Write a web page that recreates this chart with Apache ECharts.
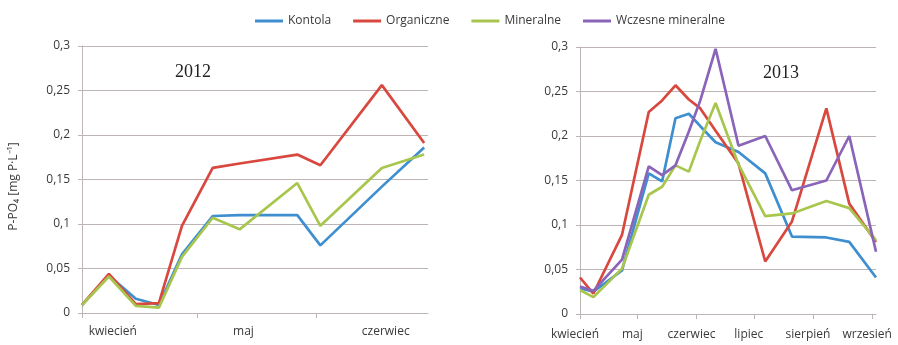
<!DOCTYPE html>
<html>
<head>
<meta charset="utf-8">
<script src="https://cdn.jsdelivr.net/npm/echarts@6/dist/echarts.min.js"></script>
<style>
html,body{margin:0;padding:0;background:#fff;}
#chart{width:898px;height:345px;}
</style>
</head>
<body>
<div id="chart"></div>
<script>
// ---- DATA ----
var seriesNames = ['Kontola', 'Organiczne', 'Mineralne', 'Wczesne mineralne'];
var yearTitles = ['2012', '2013'];
var yTickValues = [0, 0.05, 0.1, 0.15, 0.2, 0.25, 0.3];
var months2012 = ['kwiecień', 'maj', 'czerwiec'];
var months2013 = ['kwiecień', 'maj', 'czerwiec', 'lipiec', 'sierpień', 'wrzesień'];
var monthStarts2012 = [0, 30, 61, 90];          // days since 1 April
var monthStarts2013 = [0, 30, 61, 91, 122, 153];

// sampling days (days since 1 April)
var days2012 = [0, 7, 14, 20, 26, 34, 41, 56, 62, 78, 89];
var kontola2012    = [0.009, 0.042, 0.016, 0.009, 0.066, 0.109, 0.110, 0.110, 0.076, 0.142, 0.186];
var organiczne2012 = [0.009, 0.044, 0.010, 0.011, 0.098, 0.163, 0.168, 0.178, 0.166, 0.256, 0.191];
var mineralne2012  = [0.009, 0.041, 0.008, 0.006, 0.063, 0.107, 0.094, 0.146, 0.098, 0.163, 0.178];

var days2013 = [0, 7, 22, 36, 43, 50, 57, 63, 71, 83, 97, 111, 129, 141, 155];
var kontola2013    = [0.029, 0.025, 0.049, 0.158, 0.149, 0.220, 0.225, 0.211, 0.193, 0.182, 0.158, 0.087, 0.086, 0.081, 0.041];
var organiczne2013 = [0.041, 0.023, 0.089, 0.227, 0.240, 0.257, 0.241, 0.231, 0.206, 0.169, 0.059, 0.104, 0.231, 0.124, 0.081];
var mineralne2013  = [0.027, 0.019, 0.051, 0.134, 0.143, 0.167, 0.160, 0.195, 0.237, 0.168, 0.110, 0.113, 0.127, 0.119, 0.083];
var wczesne2013    = [0.031, 0.026, 0.061, 0.166, 0.156, 0.167, 0.205, 0.240, 0.298, 0.189, 0.200, 0.139, 0.150, 0.200, 0.070];

// ---- CHART ----
function zip(xs, ys) { return xs.map(function (x, i) { return [x, ys[i]]; }); }
var colors = ['#3f8fd0', '#d8483f', '#a8c64e', '#8a64b8'];
var txt = '#3a3a3a';
var gridCol = '#bdb5b5';
var font = 'Open Sans';

function yAxis(idx, withName) {
  var a = {
    type: 'value', gridIndex: idx, min: 0, max: 0.3, interval: 0.05,
    axisLine: { show: true, lineStyle: { color: gridCol, width: 1 } },
    axisTick: { show: true, length: 4, lineStyle: { color: gridCol } },
    splitLine: { show: true, lineStyle: { color: gridCol, width: 1 } },
    axisLabel: {
      color: txt, fontSize: 12, fontFamily: font, margin: 12,
      formatter: function (v) { return String(+v.toFixed(2)).replace('.', ','); }
    }
  };
  if (withName) {
    a.name = 'P-PO₄ [mg P·L⁻¹]';
    a.nameLocation = 'middle';
    a.nameGap = 62;
    a.nameTextStyle = { color: txt, fontSize: 12, fontFamily: font, padding: [0, 14, 0, 0] };
  }
  return a;
}

function monthLabel(starts, names) {
  return function (v) {
    var k = 0;
    for (var i = 0; i < starts.length; i++) { if (v >= starts[i] - 2) k = i; }
    return names[Math.min(k, names.length - 1)];
  };
}

var option = {
  animation: false,
  backgroundColor: '#ffffff',
  color: colors,
  legend: {
    top: 10, left: 250, itemWidth: 28, itemHeight: 3, itemGap: 22, icon: 'rect',
    data: seriesNames,
    textStyle: { color: txt, fontSize: 12, fontFamily: font }
  },
  graphic: [
    { type: 'text', x: 193, y: 72, style: { text: yearTitles[0], font: '18px "Liberation Serif"', fill: '#222', align: 'center', verticalAlign: 'middle' } },
    { type: 'text', x: 781, y: 73, style: { text: yearTitles[1], font: '18px "Liberation Serif"', fill: '#222', align: 'center', verticalAlign: 'middle' } }
  ],
  grid: [
    { left: 82, top: 46, width: 346, height: 267 },
    { left: 580, top: 47, width: 296, height: 267 }
  ],
  xAxis: [
    {
      type: 'value', gridIndex: 0, min: 0, max: 90,
      axisLine: { show: true, onZero: false, lineStyle: { color: gridCol } },
      splitLine: { show: false },
      axisTick: { show: true, customValues: monthStarts2012.slice(0, 3), length: 5, lineStyle: { color: gridCol } },
      axisLabel: {
        customValues: [8, 42, 79], showMinLabel: true, showMaxLabel: true,
        color: txt, fontSize: 12, fontFamily: font, margin: 13,
        formatter: monthLabel([0, 30, 61], months2012)
      }
    },
    {
      type: 'value', gridIndex: 1, min: 0, max: 155,
      axisLine: { show: true, onZero: false, lineStyle: { color: gridCol } },
      splitLine: { show: false },
      axisTick: { show: true, customValues: monthStarts2013, length: 5, lineStyle: { color: gridCol } },
      axisLabel: {
        customValues: monthStarts2013, showMinLabel: true, showMaxLabel: true,
        color: txt, fontSize: 12, fontFamily: font, margin: 15, padding: [0, 10, 0, 0],
        formatter: monthLabel(monthStarts2013, months2013)
      }
    }
  ],
  yAxis: [yAxis(0, true), yAxis(1, false)],
  series: [
    { name: seriesNames[0], type: 'line', xAxisIndex: 0, yAxisIndex: 0, data: zip(days2012, kontola2012) },
    { name: seriesNames[1], type: 'line', xAxisIndex: 0, yAxisIndex: 0, data: zip(days2012, organiczne2012) },
    { name: seriesNames[2], type: 'line', xAxisIndex: 0, yAxisIndex: 0, data: zip(days2012, mineralne2012) },
    { name: seriesNames[0], type: 'line', xAxisIndex: 1, yAxisIndex: 1, data: zip(days2013, kontola2013) },
    { name: seriesNames[1], type: 'line', xAxisIndex: 1, yAxisIndex: 1, data: zip(days2013, organiczne2013) },
    { name: seriesNames[2], type: 'line', xAxisIndex: 1, yAxisIndex: 1, data: zip(days2013, mineralne2013) },
    { name: seriesNames[3], type: 'line', xAxisIndex: 1, yAxisIndex: 1, data: zip(days2013, wczesne2013) }
  ].map(function (s) {
    s.showSymbol = false;
    s.symbol = 'none';
    s.lineStyle = { width: 2.7 };
    s.color = colors[seriesNames.indexOf(s.name)];
    return s;
  })
};

var chart = echarts.init(document.getElementById('chart'), null, { renderer: 'canvas' });
chart.setOption(option);
</script>
</body>
</html>
